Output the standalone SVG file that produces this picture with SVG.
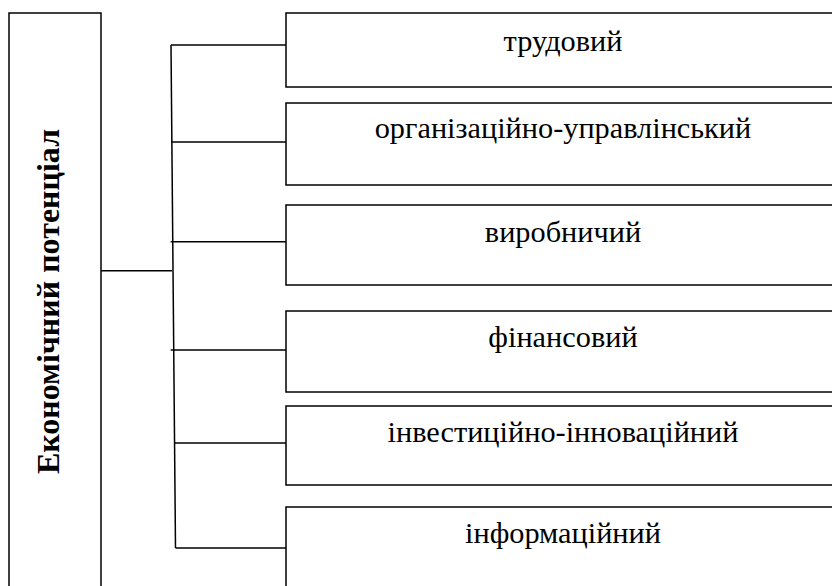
<svg xmlns="http://www.w3.org/2000/svg" width="832" height="586" viewBox="0 0 832 586">
<style>
.box{fill:#fff;stroke:#000;stroke-width:1.5}
.ln{fill:none;stroke:#000;stroke-width:1.5}
.t{font-family:"Liberation Serif","Times New Roman",serif;font-size:30.3px;fill:#000;text-anchor:middle}
.tb{font-family:"Liberation Serif","Times New Roman",serif;font-size:32px;font-weight:bold;fill:#000;text-anchor:middle}
</style>
<rect width="832" height="586" fill="#fff"/>
<g id="root">
<rect class="box" x="9" y="13" width="92" height="590"/>
<text class="tb" transform="rotate(-90)" x="-301.5" y="59">Економічний потенціал</text>
</g>
<g id="connectors">
<path class="ln" d="M101 270.7H172"/>
<path class="ln" d="M171 45L175.5 548"/>
<path class="ln" d="M171 45H286M171 142H286M170.7 241.7H286M170.7 350H286M175 443H286M175.5 548H286"/>
</g>
<g id="n1"><rect class="box" x="286" y="13" width="560" height="74"/><text class="t" x="563" y="50.5">трудовий</text></g>
<g id="n2"><rect class="box" x="286" y="103" width="560" height="82"/><text class="t" x="563" y="138">організаційно-управлінський</text></g>
<g id="n3"><rect class="box" x="286" y="205" width="560" height="80"/><text class="t" x="563" y="241.7">виробничий</text></g>
<g id="n4"><rect class="box" x="286" y="311" width="560" height="81"/><text class="t" x="563" y="346.7">фінансовий</text></g>
<g id="n5"><rect class="box" x="286" y="406" width="560" height="79"/><text class="t" x="563" y="441.7">інвестиційно-інноваційний</text></g>
<g id="n6"><rect class="box" x="286" y="507" width="560" height="90"/><text class="t" x="563" y="543">інформаційний</text></g>
</svg>
